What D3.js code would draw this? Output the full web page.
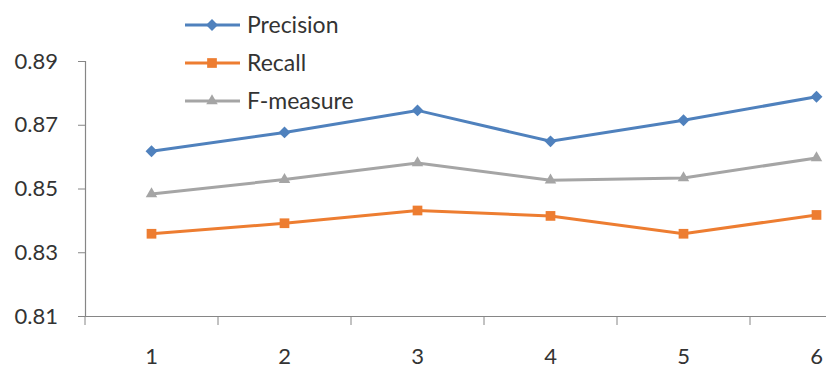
<!DOCTYPE html>
<html><head><meta charset="utf-8">
<script src="https://cdn.jsdelivr.net/npm/d3@7"></script>
<style>html,body{margin:0;padding:0;background:#fff;overflow:hidden}</style>
</head><body>
<svg id="chart" width="826" height="370"></svg>
<script>
const categories = ["1","2","3","4","5","6"];
const precision = [0.8617, 0.8676, 0.8745, 0.8648, 0.8714, 0.8788];
const recall    = [0.8358, 0.8391, 0.8431, 0.8414, 0.8358, 0.8417];
const fmeasure  = [0.8483, 0.8528, 0.8580, 0.8526, 0.8533, 0.8596];
const yTicks = [0.81, 0.83, 0.85, 0.87, 0.89];
const seriesNames = ["Precision","Recall","F-measure"];

const series = [
  {name: seriesNames[0], values: precision, color: "#4F81BD", symbol: d3.symbolDiamond2, size: 90},
  {name: seriesNames[1], values: recall, color: "#ED7D31", symbol: d3.symbolSquare2, size: 120},
  {name: seriesNames[2], values: fmeasure, color: "#A5A5A5", symbol: d3.symbolTriangle2, size: 95}
];

const svg = d3.select("#chart");
const font = "Lato, 'Open Sans', sans-serif";
const x = d3.scaleBand().domain(categories).range([85, 883]);
const y = d3.scaleLinear().domain([0.81, 0.89]).range([316, 61]);

// y axis
const yAxis = svg.append("g").attr("transform","translate(85,0)")
  .call(d3.axisLeft(y).tickValues(yTicks).tickFormat(d3.format(".2f")).tickSize(7).tickPadding(20));
yAxis.select(".domain").attr("stroke","#868686").attr("stroke-width",1.2);
yAxis.selectAll(".tick line").attr("stroke","#868686");
yAxis.selectAll("text").attr("font-family",font).attr("font-size",22).attr("fill","#333");

// x axis
const xAxis = svg.append("g").attr("transform","translate(0,316)")
  .call(d3.axisBottom(x).tickSize(0).tickPadding(32));
xAxis.select(".domain").attr("stroke","#868686").attr("stroke-width",1.2);
xAxis.selectAll("text").attr("font-family",font).attr("font-size",22).attr("fill","#333");
// boundary ticks between categories
const bounds = categories.map(c => x(c)).concat([x(categories[categories.length-1]) + x.bandwidth()]);
svg.append("g").selectAll("line").data(bounds).join("line")
  .attr("x1", d=>d).attr("x2", d=>d).attr("y1",316).attr("y2",325)
  .attr("stroke","#868686").attr("stroke-width",1);

const cx = c => x(c) + x.bandwidth()/2;
const line = d3.line().x((d,i)=>cx(categories[i])).y(d=>y(d));

series.forEach(s => {
  svg.append("path").datum(s.values).attr("d", line)
    .attr("fill","none").attr("stroke", s.color).attr("stroke-width",3);
  svg.append("g").selectAll("path").data(s.values).join("path")
    .attr("transform",(d,i)=>`translate(${cx(categories[i])},${y(d)})`)
    .attr("d", d3.symbol().type(s.symbol).size(s.size))
    .attr("fill", s.color);
});

// legend
const legend = svg.append("g");
series.forEach((s,i) => {
  const ly = 25 + i*38;
  legend.append("line").attr("x1",185).attr("x2",240).attr("y1",ly).attr("y2",ly)
    .attr("stroke",s.color).attr("stroke-width",3);
  legend.append("path").attr("transform",`translate(212,${ly})`)
    .attr("d", d3.symbol().type(s.symbol).size(s.size)).attr("fill",s.color);
  legend.append("text").attr("x",247).attr("y",ly).attr("dy","0.35em")
    .attr("font-family",font).attr("font-size",23).attr("fill","#333").text(s.name);
});
</script>
</body></html>
